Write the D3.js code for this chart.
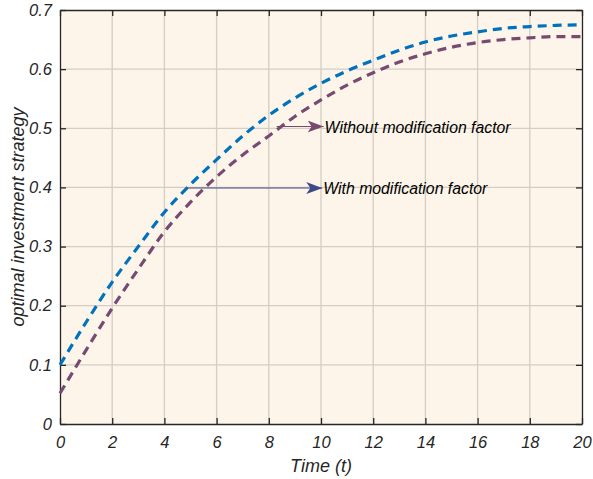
<!DOCTYPE html>
<html>
<head>
<meta charset="utf-8">
<script src="https://cdn.jsdelivr.net/npm/d3@7"></script>
<style>
  body { margin: 0; background: #fff; }
  text { font-family: "Liberation Sans", Arial, sans-serif; font-style: italic; }
</style>
</head>
<body>
<div id="chart"></div>
<script>
// data
var times = [0,1,2,3,4,5,6,7,8,9,10,11,12,13,14,15,16,17,18,19,20];
var withMod = [0.1,0.172,0.24,0.30,0.358,0.405,0.447,0.487,0.522,0.551,0.576,0.597,0.615,0.632,0.646,0.656,0.663,0.669,0.672,0.674,0.675];
var withoutMod = [0.052,0.125,0.196,0.262,0.325,0.375,0.418,0.455,0.487,0.52,0.548,0.573,0.594,0.612,0.626,0.637,0.645,0.650,0.653,0.655,0.655];
var xTicks = [0,2,4,6,8,10,12,14,16,18,20];
var yTicks = [0,0.1,0.2,0.3,0.4,0.5,0.6,0.7];

var w = 593, h = 479;
var m = {left: 60, right: 11, top: 10, bottom: 55};

var svg = d3.select("#chart").append("svg")
  .attr("width", w).attr("height", h);

var x = d3.scaleLinear().domain([0, 20]).range([m.left, w - m.right]);
var y = d3.scaleLinear().domain([0, 0.7]).range([h - m.bottom, m.top]);

// background
svg.append("rect")
  .attr("x", x(0)).attr("y", y(0.7))
  .attr("width", x(20) - x(0)).attr("height", y(0) - y(0.7))
  .attr("fill", "#fdf5ea");

// grid
svg.append("g").selectAll("line").data(xTicks.slice(1, -1)).join("line")
  .attr("x1", d => x(d)).attr("x2", d => x(d))
  .attr("y1", y(0)).attr("y2", y(0.7))
  .attr("stroke", "#d3cdc4").attr("stroke-width", 1.3);
svg.append("g").selectAll("line").data(yTicks.slice(1, -1)).join("line")
  .attr("y1", d => y(d)).attr("y2", d => y(d))
  .attr("x1", x(0)).attr("x2", x(20))
  .attr("stroke", "#d3cdc4").attr("stroke-width", 1.3);

// axes, ticks inside
var xAxis = svg.append("g")
  .attr("transform", "translate(0," + y(0) + ")")
  .call(d3.axisBottom(x).tickValues(xTicks).tickSizeInner(-6).tickSizeOuter(0).tickPadding(12));
var yAxis = svg.append("g")
  .attr("transform", "translate(" + x(0) + ",0)")
  .call(d3.axisLeft(y).tickValues(yTicks).tickSizeInner(-6).tickSizeOuter(0).tickPadding(8)
    .tickFormat(d => d === 0 ? "0" : d3.format(".1f")(d)));
var xTop = svg.append("g")
  .attr("transform", "translate(0," + y(0.7) + ")")
  .call(d3.axisTop(x).tickValues(xTicks).tickSizeInner(-6).tickSizeOuter(0).tickFormat(""));
var yRight = svg.append("g")
  .attr("transform", "translate(" + x(20) + ",0)")
  .call(d3.axisRight(y).tickValues(yTicks).tickSizeInner(-6).tickSizeOuter(0).tickFormat(""));

[xAxis, yAxis, xTop, yRight].forEach(function(g) {
  g.select(".domain").attr("stroke", "#262626").attr("stroke-width", 1.3);
  g.selectAll(".tick line").attr("stroke", "#262626").attr("stroke-width", 1.3);
  g.selectAll(".tick text").attr("fill", "#262626")
    .style("font-size", "16.5px").style("font-style", "italic")
    .style("font-family", "'Liberation Sans', Arial, sans-serif");
});

// curves
var line = d3.line()
  .x((d, i) => x(times[i]))
  .y(d => y(d))
  .curve(d3.curveMonotoneX);

svg.append("path")
  .attr("d", line(withoutMod))
  .attr("fill", "none")
  .attr("stroke", "#774a72")
  .attr("stroke-width", 3.2)
  .attr("stroke-dasharray", "9 6");

svg.append("path")
  .attr("d", line(withMod))
  .attr("fill", "none")
  .attr("stroke", "#0072bd")
  .attr("stroke-width", 3.2)
  .attr("stroke-dasharray", "9 6");

// annotations
var defs = svg.append("defs");
function marker(id, col) {
  defs.append("marker")
    .attr("id", id)
    .attr("viewBox", "0 0 16 12")
    .attr("refX", 16).attr("refY", 6)
    .attr("markerWidth", 16).attr("markerHeight", 12)
    .attr("markerUnits", "userSpaceOnUse")
    .attr("orient", "auto")
    .append("path")
    .attr("d", "M0,0 L16,6 L0,12 L4,6 Z")
    .attr("fill", col);
}
marker("arrP", "#774a72");
marker("arrB", "#3d4a85");

var notes = [
  {t0: 8.3, t1: 10.1, v: 0.503, label: "Without modification factor", col: "#774a72", id: "arrP"},
  {t0: 4.85, t1: 10.05, v: 0.399, label: "With modification factor", col: "#3d4a85", id: "arrB"}
];
notes.forEach(function(n) {
  svg.append("line")
    .attr("x1", x(n.t0)).attr("x2", x(n.t1))
    .attr("y1", y(n.v)).attr("y2", y(n.v))
    .attr("stroke", n.col).attr("stroke-width", 1.2)
    .attr("marker-end", "url(#" + n.id + ")");
  svg.append("text")
    .attr("x", x(n.t1) + 1).attr("y", y(n.v) + 6)
    .attr("font-size", 15.8).attr("fill", "#000")
    .text(n.label);
});

// axis titles
svg.append("text")
  .attr("x", (x(0) + x(20)) / 2).attr("y", 472)
  .attr("text-anchor", "middle").attr("font-size", 18).attr("fill", "#262626")
  .text("Time (t)");
svg.append("text")
  .attr("transform", "translate(24," + (y(0.35)) + ") rotate(-90)")
  .attr("text-anchor", "middle").attr("font-size", 18).attr("fill", "#262626")
  .text("optimal investment strategy");
</script>
</body>
</html>
